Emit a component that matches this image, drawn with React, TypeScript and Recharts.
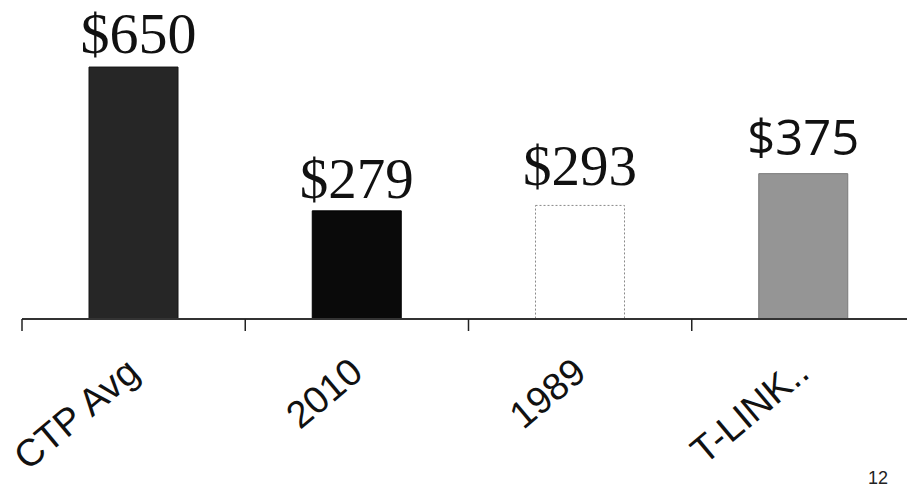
import React from 'react';
import { BarChart, Bar, XAxis, YAxis, Cell, LabelList } from 'recharts';

// values
const categories = ['CTP Avg', '2010', '1989', 'T-LINK..'];
const costs = [650, 279, 293, 375];
const valueLabels = ['$650', '$279', '$293', '$375'];

const data = categories.map((name, i) => ({ name, cost: costs[i], label: valueLabels[i] }));

// look of each bar / label
const FILLS = ['#262626', '#0a0a0a', '#ffffff', '#959595'];
const STROKES = ['#151515', '#000000', '#8a8a8a', '#7a7a7a'];
const SERIF = '"Liberation Serif", "Times New Roman", serif';
const SANS = '"Open Sans", "Liberation Sans", sans-serif';
const LABEL_FONTS = [SERIF, SERIF, SERIF, SANS];
const LABEL_SIZES = [58, 57, 57, 49];
const LABEL_GAPS = [14, 13, 20, 19];

const ValueLabel = (props: any) => {
  const { x, y, width, value } = props;
  const i = valueLabels.indexOf(value);
  return (
    <text
      x={x + width / 2 + (i === 0 ? 5 : 0)}
      y={y - LABEL_GAPS[i]}
      textAnchor="middle"
      fontFamily={LABEL_FONTS[i]}
      fontSize={LABEL_SIZES[i]}
      fill="#111"
    >
      {value}
    </text>
  );
};

const CategoryTick = (props: any) => {
  const { x, y, payload } = props;
  const half = payload && payload.offset ? payload.offset : 111.6;
  const tx = x + 8;
  const ty = y + 57;
  return (
    <g>
      <line x1={x - half} x2={x - half} y1={319} y2={331} stroke="#222" strokeWidth={1.5} />
      <text
        x={tx}
        y={ty}
        textAnchor="end"
        transform={`rotate(-40, ${tx}, ${ty})`}
        fontFamily='"Liberation Sans", Arial, sans-serif'
        fontSize={38}
        fill="#111"
      >
        {payload.value}
      </text>
    </g>
  );
};

const App: React.FC = () => {
  return (
    <div
      style={{
        position: 'absolute',
        left: 0,
        top: 0,
        width: 907,
        height: 491,
        overflow: 'hidden',
        background: '#fff',
      }}
    >
      <BarChart
        width={915}
        height={491}
        data={data}
        margin={{ top: 0, right: 0, bottom: 0, left: 22 }}
      >
        <XAxis
          dataKey="name"
          height={172}
          interval={0}
          tickLine={false}
          tickSize={0}
          tickMargin={0}
          axisLine={{ stroke: '#333', strokeWidth: 2 }}
          tick={<CategoryTick />}
        />
        <YAxis hide domain={[0, 823]} allowDataOverflow />
        <Bar dataKey="cost" barSize={89} isAnimationActive={false}>
          {data.map((d, i) => (
            <Cell
              key={d.name}
              fill={FILLS[i]}
              stroke={STROKES[i]}
              strokeWidth={1}
              strokeDasharray={i === 2 ? '2 2' : undefined}
            />
          ))}
          <LabelList dataKey="label" content={<ValueLabel />} />
        </Bar>
      </BarChart>
      <div
        style={{
          position: 'absolute',
          left: 868,
          top: 468,
          fontFamily: '"Liberation Sans", Arial, sans-serif',
          fontSize: 18,
          lineHeight: '20px',
          color: '#222',
        }}
      >
        12
      </div>
    </div>
  );
};

export default App;
